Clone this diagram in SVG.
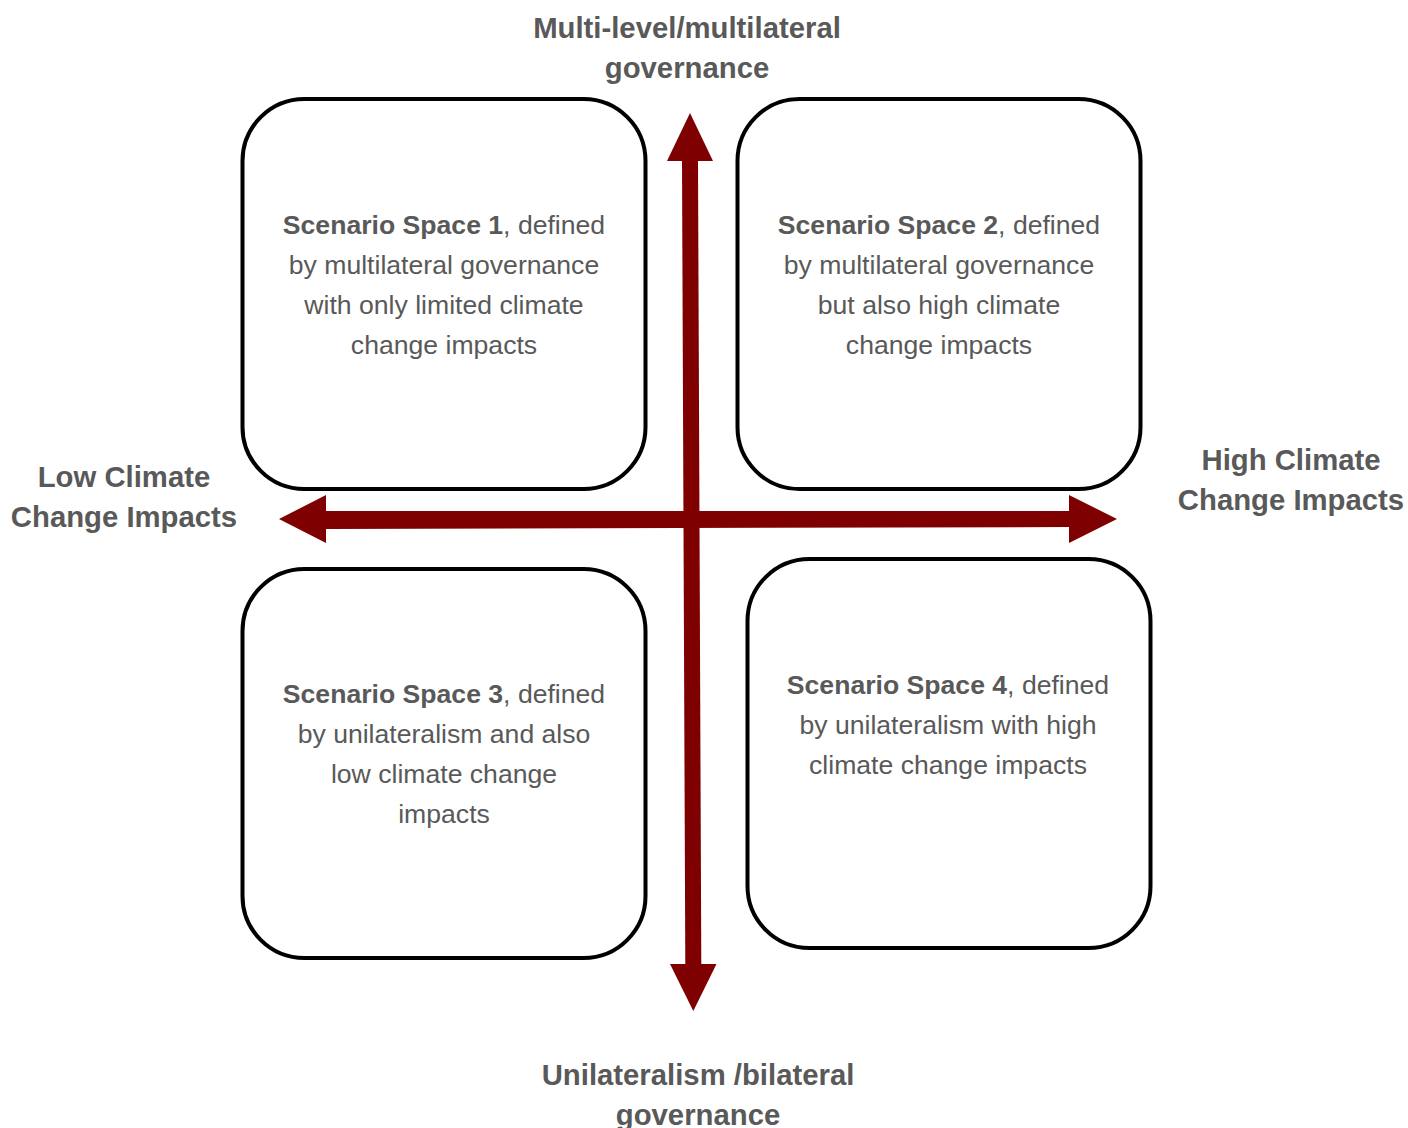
<svg xmlns="http://www.w3.org/2000/svg" width="1408" height="1128" viewBox="0 0 1408 1128">
<style>
.box{fill:#fff;stroke:#000;stroke-width:4}
.t{font-family:"Liberation Sans",Arial,sans-serif;font-size:26.6px;fill:#595959;text-anchor:middle}
.h{font-family:"Liberation Sans",Arial,sans-serif;font-size:29.3px;font-weight:bold;fill:#595959;text-anchor:middle}
.b{font-weight:bold}
.ax{fill:#7f0000}
</style>
<rect width="1408" height="1128" fill="#fff"/>
<g id="node1"><rect class="box" x="242.5" y="99" width="403" height="390" rx="62"/>
<text class="t" x="444" y="234"><tspan class="b">Scenario Space 1</tspan>, defined</text>
<text class="t" x="444" y="274">by multilateral governance</text>
<text class="t" x="444" y="314">with only limited climate</text>
<text class="t" x="444" y="354">change impacts</text></g>
<g id="node2"><rect class="box" x="737.5" y="99" width="403" height="390" rx="62"/>
<text class="t" x="939" y="234"><tspan class="b">Scenario Space 2</tspan>, defined</text>
<text class="t" x="939" y="274">by multilateral governance</text>
<text class="t" x="939" y="314">but also high climate</text>
<text class="t" x="939" y="354">change impacts</text></g>
<g id="node3"><rect class="box" x="242.5" y="569" width="403" height="389" rx="62"/>
<text class="t" x="444" y="703"><tspan class="b">Scenario Space 3</tspan>, defined</text>
<text class="t" x="444" y="743">by unilateralism and also</text>
<text class="t" x="444" y="783">low climate change</text>
<text class="t" x="444" y="823">impacts</text></g>
<g id="node4"><rect class="box" x="747.5" y="559" width="403" height="389" rx="62"/>
<text class="t" x="948" y="694"><tspan class="b">Scenario Space 4</tspan>, defined</text>
<text class="t" x="948" y="734">by unilateralism with high</text>
<text class="t" x="948" y="774">climate change impacts</text></g>
<g id="connectors">
<polygon class="ax" points="682,161 698,161 701.3,964 685.3,964"/>
<polygon class="ax" points="690,113 713,161 667,161"/>
<polygon class="ax" points="693.3,1011 716.5,964 670,964"/>
<polygon class="ax" points="326,511 1069,511 1069,527 326,529"/>
<polygon class="ax" points="279,519 326,495 326,543"/>
<polygon class="ax" points="1117,519 1069,495 1069,543"/>
</g>
<g id="labels">
<text class="h" x="687" y="38">Multi-level/multilateral</text>
<text class="h" x="687" y="78">governance</text>
<text class="h" x="124" y="487">Low Climate</text>
<text class="h" x="124" y="527">Change Impacts</text>
<text class="h" x="1291" y="470">High Climate</text>
<text class="h" x="1291" y="510">Change Impacts</text>
<text class="h" x="698" y="1085">Unilateralism /bilateral</text>
<text class="h" x="698" y="1125">governance</text>
</g>
</svg>
